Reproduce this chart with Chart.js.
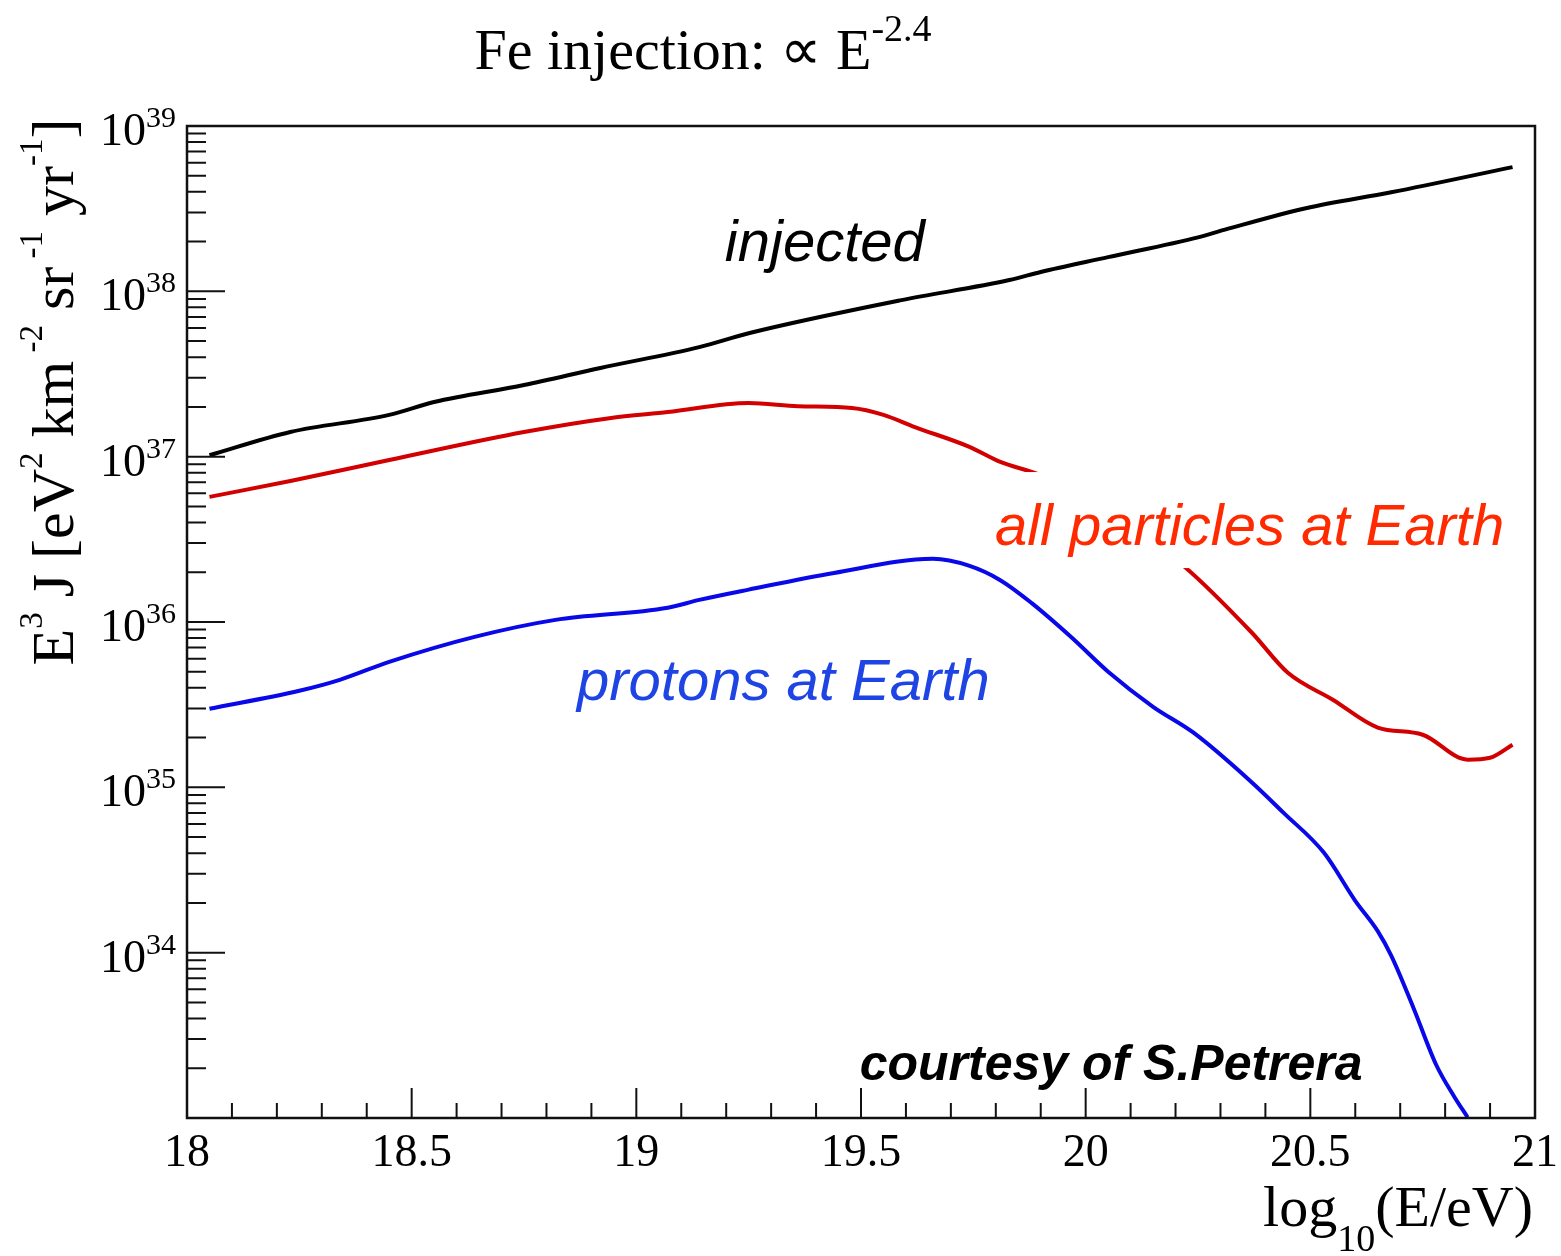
<!DOCTYPE html>
<html>
<head>
<meta charset="utf-8">
<script src="https://cdn.jsdelivr.net/npm/chart.js@4.4.1/dist/chart.umd.min.js"></script>
<style>
  html, body { margin: 0; padding: 0; background: #fff; }
</style>
</head>
<body>
<canvas id="myChart" width="1561" height="1256"></canvas>
<script>
// log10(E/eV) samples and E^3 J for each curve
const injectedE = [18.05, 18.23, 18.45, 18.55, 18.75, 18.92, 19.14, 19.25, 19.59, 19.83, 19.90, 20.05, 20.25, 20.31, 20.49, 20.68, 20.95];
const injectedFlux = [1.02e37, 1.41e37, 1.79e37, 2.14e37, 2.71e37, 3.44e37, 4.60e37, 5.58e37, 8.85e37, 1.17e38, 1.31e38, 1.61e38, 2.12e38, 2.36e38, 3.18e38, 3.97e38, 5.64e38];

const allE = [18.05, 18.23, 18.45, 18.75, 18.94, 19.07, 19.25, 19.36, 19.48, 19.55, 19.62, 19.74, 19.81, 19.90, 20.05, 20.14, 20.22, 20.37, 20.45, 20.55, 20.65, 20.75, 20.85, 20.90, 20.95];
const allFlux = [5.71e36, 7.13e36, 9.55e36, 1.41e37, 1.71e37, 1.86e37, 2.11e37, 2.02e37, 1.97e37, 1.79e37, 1.51e37, 1.15e37, 9.29e36, 7.7e36, 4.45e36, 3.10e36, 2.16e36, 8.61e35, 4.93e35, 3.39e35, 2.30e35, 2.08e35, 1.47e35, 1.51e35, 1.81e35];

const protonE = [18.05, 18.25, 18.34, 18.45, 18.64, 18.82, 19.07, 19.14, 19.25, 19.44, 19.66, 19.74, 19.81, 19.88, 19.97, 20.05, 20.15, 20.24, 20.37, 20.44, 20.53, 20.60, 20.65, 20.68, 20.73, 20.78, 20.82, 20.85];
const protonFlux = [2.99e35, 3.84e35, 4.47e35, 5.74e35, 8.13e35, 1.03e36, 1.22e36, 1.36e36, 1.57e36, 1.98e36, 2.41e36, 2.19e36, 1.79e36, 1.30e36, 8.0e35, 5.0e35, 3.07e35, 2.14e35, 1.07e35, 7.03e34, 4.03e34, 2.06e34, 1.35e34, 9.6e33, 4.6e33, 2.1e33, 1.35e33, 1.01e33];

const xTickLabels = ['18', '18.5', '19', '19.5', '20', '20.5', '21'];
const yDecades = [34, 35, 36, 37, 38, 39];

const SERIF = '"Liberation Serif", "Times New Roman", serif';
const SANS = '"Liberation Sans", Arial, sans-serif';

// text placed on the plot, anchored at (log10 E, flux) = left end of baseline
const notes = [
  { text: 'injected', e: 19.197, flux: 1.52e38, color: '#000000', font: 'italic 58px ' + SANS },
  { text: 'all particles at Earth', e: 19.798, flux: 2.92e36, color: '#ff2a00', font: 'italic 58px ' + SANS },
  { text: 'protons at Earth', e: 18.868, flux: 3.37e35, color: '#1f44e4', font: 'italic 58px ' + SANS },
  { text: 'courtesy of S.Petrera', e: 19.497, flux: 1.70e33, color: '#000000', font: 'italic bold 50px ' + SANS }
];

function points(xs, ys) {
  return xs.map((x, i) => ({ x: x, y: ys[i] }));
}

// pieces are [text, size, rise]; all drawn on one baseline
function drawRuns(c, pieces, x, y, align) {
  let total = 0;
  pieces.forEach(p => {
    c.font = p[1] + 'px ' + SERIF;
    total += c.measureText(p[0]).width;
  });
  let cx = x;
  if (align === 'right') cx = x - total;
  if (align === 'center') cx = x - total / 2;
  c.textAlign = 'left';
  c.textBaseline = 'alphabetic';
  pieces.forEach(p => {
    c.font = p[1] + 'px ' + SERIF;
    c.fillText(p[0], cx, y - p[2]);
    cx += c.measureText(p[0]).width;
  });
}

const decor = {
  id: 'decor',
  afterDraw(chart) {
    const c = chart.ctx;
    const a = chart.chartArea;
    const xs = chart.scales.x;
    const ys = chart.scales.y;
    c.save();

    // labels over the curves, each with a white backing
    notes.forEach(n => {
      c.font = n.font;
      const w = c.measureText(n.text).width;
      const px = xs.getPixelForValue(n.e);
      const py = ys.getPixelForValue(n.flux);
      c.fillStyle = '#ffffff';
      c.fillRect(px - 5, py - 73, w + 10, 96);
      c.fillStyle = n.color;
      c.textAlign = 'left';
      c.textBaseline = 'alphabetic';
      c.fillText(n.text, px, py);
    });

    // frame
    c.strokeStyle = '#111111';
    c.lineWidth = 2.5;
    c.strokeRect(a.left, a.top, a.right - a.left, a.bottom - a.top);

    // inward ticks
    c.lineWidth = 2;
    c.beginPath();
    for (let i = 1; i < 30; i++) {
      const px = xs.getPixelForValue(18 + i / 10);
      const len = i % 5 === 0 ? 30 : 15;
      c.moveTo(px, a.bottom);
      c.lineTo(px, a.bottom - len);
    }
    for (let d = 33; d <= 39; d++) {
      for (let m = 1; m <= 9; m++) {
        const v = m * Math.pow(10, d);
        if (v <= 1e33 || v > 1e39) continue;
        const py = ys.getPixelForValue(v);
        const len = m === 1 ? 38 : 19;
        c.moveTo(a.left, py);
        c.lineTo(a.left + len, py);
      }
    }
    c.stroke();

    c.fillStyle = '#000000';

    // x tick labels
    xTickLabels.forEach(t => {
      const px = xs.getPixelForValue(parseFloat(t));
      drawRuns(c, [[t, 46, 0]], px, a.bottom + 48, 'center');
    });

    // y tick labels 10^n
    yDecades.forEach(d => {
      const py = ys.getPixelForValue(Math.pow(10, d));
      drawRuns(c, [['10', 46, 0], [String(d), 30, 18]], a.left - 11, py + 19, 'right');
    });

    // x title
    drawRuns(c, [['log', 58, 0], ['10', 38, -25], ['(E/eV)', 58, 0]], 1533, 1226, 'right');

    // main title
    drawRuns(c, [['Fe injection: \u221D E', 58, 0], ['-2.4', 38, 28]], 703, 69, 'center');

    // y title, rotated
    c.translate(73, 392);
    c.rotate(-Math.PI / 2);
    drawRuns(c, [
      ['E', 60, 0], ['3', 33, 31], [' J [eV', 60, 0], ['2', 33, 31],
      [' km', 60, 0], [' -2', 33, 31], [' sr', 60, 0], [' -1', 33, 31],
      [' yr', 60, 0], ['-1', 33, 31], [']', 60, 0]
    ], 0, 0, 'center');

    c.restore();
  }
};

const ctx = document.getElementById('myChart');

new Chart(ctx, {
  type: 'line',
  data: {
    datasets: [{
      label: 'injected',
      data: points(injectedE, injectedFlux),
      borderColor: '#000000',
      borderWidth: 4,
      pointRadius: 0,
      cubicInterpolationMode: 'monotone'
    }, {
      label: 'all particles at Earth',
      data: points(allE, allFlux),
      borderColor: '#d20000',
      borderWidth: 4,
      pointRadius: 0,
      cubicInterpolationMode: 'monotone'
    }, {
      label: 'protons at Earth',
      data: points(protonE, protonFlux),
      borderColor: '#0808e8',
      borderWidth: 4,
      pointRadius: 0,
      cubicInterpolationMode: 'monotone'
    }]
  },
  options: {
    responsive: false,
    animation: false,
    layout: {
      padding: { left: 187, top: 126, right: 26, bottom: 138 }
    },
    scales: {
      x: { type: 'linear', display: false, min: 18, max: 21 },
      y: { type: 'logarithmic', display: false, min: 1e33, max: 1e39 }
    },
    plugins: {
      legend: { display: false },
      tooltip: { enabled: false }
    }
  },
  plugins: [decor]
});
</script>
</body>
</html>
